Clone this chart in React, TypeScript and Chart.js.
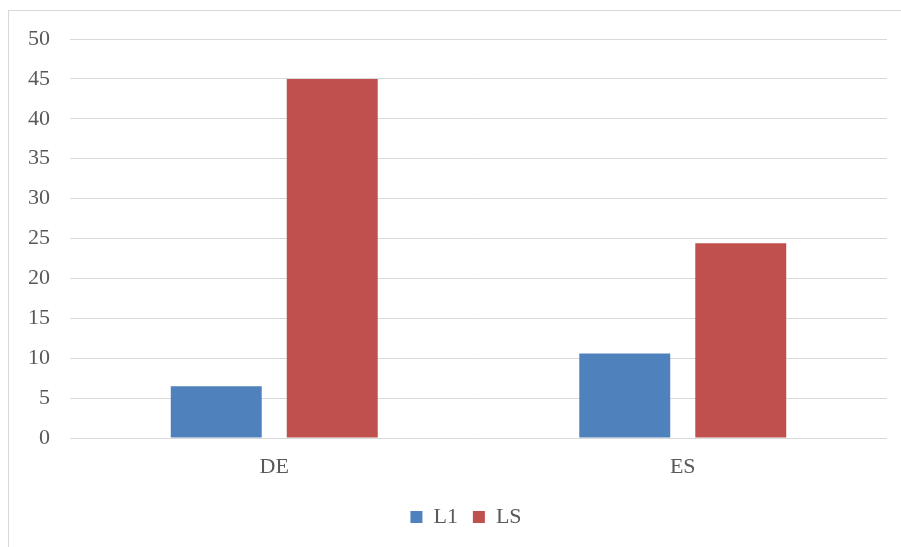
import React, { useEffect, useRef } from "react";
import { Chart, registerables } from "chart.js";

Chart.register(...registerables);

const categories = ["DE", "ES"];
const seriesL1 = [6.5, 10.6];
const seriesLS = [45, 24.4];
const seriesNames = ["L1", "LS"];
const seriesColors = ["#4F81BD", "#C0504D"];
const yMin = 0;
const yMax = 50;
const yStep = 5;

const FONT = "'Liberation Serif', 'Times New Roman', serif";
const TEXT_COLOR = "#595959";
const GRID_COLOR = "#D9D9D9";

const legendShift = {
  id: "legendShift",
  afterLayout(chart: any) {
    if (chart.legend) {
      chart.legend.left += 36;
    }
  },
};

export default function App() {
  const canvasRef = useRef<HTMLCanvasElement | null>(null);

  useEffect(() => {
    if (!canvasRef.current) return;
    const chart = new Chart(canvasRef.current, {
      type: "bar",
      data: {
        labels: categories,
        datasets: [
          {
            label: seriesNames[0],
            data: seriesL1,
            backgroundColor: seriesColors[0],
            borderWidth: 0,
          },
          {
            label: seriesNames[1],
            data: seriesLS,
            backgroundColor: seriesColors[1],
            borderWidth: 0,
          },
        ],
      },
      options: {
        animation: false,
        responsive: false,
        maintainAspectRatio: false,
        devicePixelRatio: 1,
        layout: { padding: { left: 0, right: 14, top: 28, bottom: 9 } },
        datasets: {
          bar: { categoryPercentage: 0.568, barPercentage: 0.784 },
        },
        plugins: {
          title: { display: false },
          tooltip: { enabled: false },
          legend: {
            display: true,
            position: "bottom",
            labels: {
              boxWidth: 12,
              boxHeight: 12,
              padding: 15,
              color: TEXT_COLOR,
              font: { family: FONT, size: 22 },
            },
          },
        },
        scales: {
          x: {
            grid: { display: false, drawTicks: false },
            border: { display: false },
            ticks: {
              color: TEXT_COLOR,
              font: { family: FONT, size: 22 },
              padding: 16,
            },
            afterFit: (scale: any) => {
              scale.height = 53;
              scale.paddingLeft = 0;
              scale.paddingRight = 0;
            },
          },
          y: {
            min: yMin,
            max: yMax,
            grid: { color: GRID_COLOR, lineWidth: 1, drawTicks: false },
            border: { display: false },
            ticks: {
              stepSize: yStep,
              color: TEXT_COLOR,
              font: { family: FONT, size: 22 },
              padding: 20,
            },
            afterFit: (scale: any) => {
              scale.width = 61;
              scale.paddingTop = 0;
              scale.paddingBottom = 0;
            },
          },
        },
      },
      plugins: [legendShift],
    });
    return () => chart.destroy();
  }, []);

  return (
    <div
      style={{
        position: "absolute",
        left: 8,
        top: 10,
        width: 893,
        height: 537,
        boxSizing: "border-box",
        borderTop: "1px solid #D9D9D9",
        borderLeft: "1px solid #D9D9D9",
        background: "#FFFFFF",
      }}
    >
      <canvas
        ref={canvasRef}
        width={892}
        height={536}
        style={{ display: "block", width: 892, height: 536 }}
      />
    </div>
  );
}
